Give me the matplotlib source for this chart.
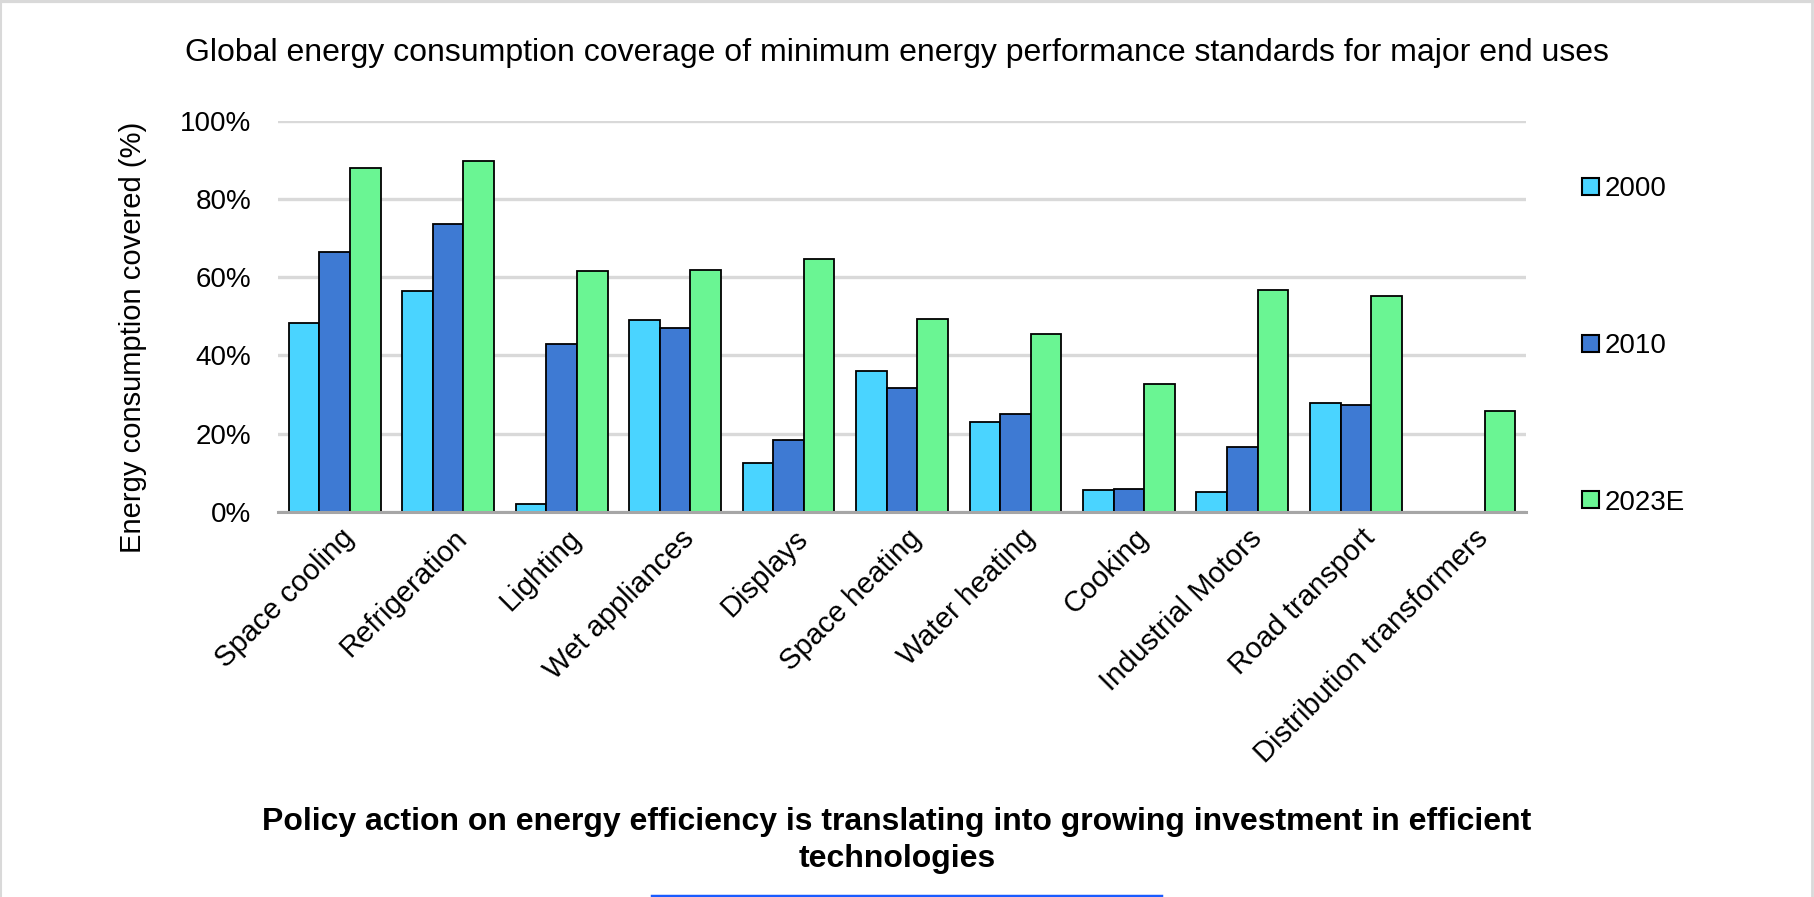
import numpy as np
import matplotlib.pyplot as plt
from matplotlib.lines import Line2D
from matplotlib.patches import Patch
import matplotlib.transforms as mtransforms

plt.rcParams['font.family'] = ['Liberation Sans', 'DejaVu Sans']

# End uses and share of energy consumption covered by MEPS (%)
end_uses = ["Space cooling", "Refrigeration", "Lighting", "Wet appliances", "Displays",
            "Space heating", "Water heating", "Cooking", "Industrial Motors",
            "Road transport", "Distribution transformers"]
years = ["2000", "2010", "2023E"]
cov_2000 = [48.4, 56.4, 2.0, 49.0, 12.6, 36.0, 23.1, 5.5, 5.2, 27.8, 0.0]
cov_2010 = [66.5, 73.6, 42.9, 47.0, 18.5, 31.7, 25.0, 5.8, 16.6, 27.3, 0.0]
cov_2023 = [88.0, 89.8, 61.7, 61.8, 64.7, 49.3, 45.5, 32.8, 56.8, 55.2, 25.8]

colors = ["#4AD4FF", "#3E7AD3", "#6AF593"]

fig = plt.figure(figsize=(18.15, 8.97), dpi=100)
ax = fig.add_axes([278 / 1815, 1 - 512 / 897, (1526 - 278) / 1815, (512 - 120.7) / 897])

x = np.arange(len(end_uses))
w = 0.27
for i, (vals, c) in enumerate(zip([cov_2000, cov_2010, cov_2023], colors)):
    ax.bar(x + (i - 1) * w, vals, width=w, color=c, edgecolor="black",
           linewidth=1.3, zorder=3)

ax.set_xlim(-0.5, len(end_uses) - 0.5)
ax.set_ylim(0, 100)
ax.set_yticks(np.arange(0, 101, 20))
ax.set_yticklabels([f"{v}%" for v in range(0, 101, 20)], fontsize=20)
ax.yaxis.grid(True, color="#d9d9d9", linewidth=2.4, zorder=0)
ax.tick_params(axis="y", length=0, pad=19)
ax.tick_params(axis="x", length=0, pad=0)
for s in ["top", "right", "left"]:
    ax.spines[s].set_visible(False)
ax.spines["bottom"].set_color("#a6a6a6")
ax.spines["bottom"].set_linewidth(2.2)
ax.spines["bottom"].set_zorder(4)

ax.set_xticks(x)
ax.set_xticklabels(end_uses, fontsize=21, rotation=45, ha="right", va="top",
                   rotation_mode="anchor")
offset = mtransforms.ScaledTranslation(5 / 100, -12 / 100, fig.dpi_scale_trans)
for lbl in ax.get_xticklabels():
    lbl.set_transform(lbl.get_transform() + offset)

ax.set_ylabel("Energy consumption covered (%)", fontsize=21)
ax.yaxis.set_label_coords(-0.105, 0.445)

handles = [Patch(facecolor=c, edgecolor="black", linewidth=1.5) for c in colors]
fig.legend(handles, years, loc="center left", bbox_to_anchor=(1571 / 1815, 1 - 346 / 897),
           frameon=False, fontsize=20, handlelength=0.6, handleheight=0.55,
           handletextpad=0.2, labelspacing=4.7, borderaxespad=0)

fig.text(897 / 1815, 1 - 53 / 897,
         "Global energy consumption coverage of minimum energy performance standards for major end uses",
         fontsize=23, ha="center", va="center")
fig.text(897 / 1815, 1 - 822 / 897,
         "Policy action on energy efficiency is translating into growing investment in efficient",
         fontsize=23, fontweight="bold", ha="center", va="center")
fig.text(897 / 1815, 1 - 859 / 897, "technologies",
         fontsize=23, fontweight="bold", ha="center", va="center")

# light frame around the panel and the blue rule at the bottom
fig.add_artist(Line2D([0, 1], [0.999, 0.999], color="#d9d9d9", linewidth=3,
                      transform=fig.transFigure))
fig.add_artist(Line2D([0.0005, 0.0005], [0, 1], color="#d9d9d9", linewidth=1.5,
                      transform=fig.transFigure))
fig.add_artist(Line2D([0.9985, 0.9985], [0, 1], color="#d9d9d9", linewidth=2,
                      transform=fig.transFigure))
fig.add_artist(Line2D([652 / 1815, 1161 / 1815], [0.0015, 0.0015], color="#1a5cff",
                      linewidth=2.5, transform=fig.transFigure))

fig.savefig("out.png", dpi=100)
